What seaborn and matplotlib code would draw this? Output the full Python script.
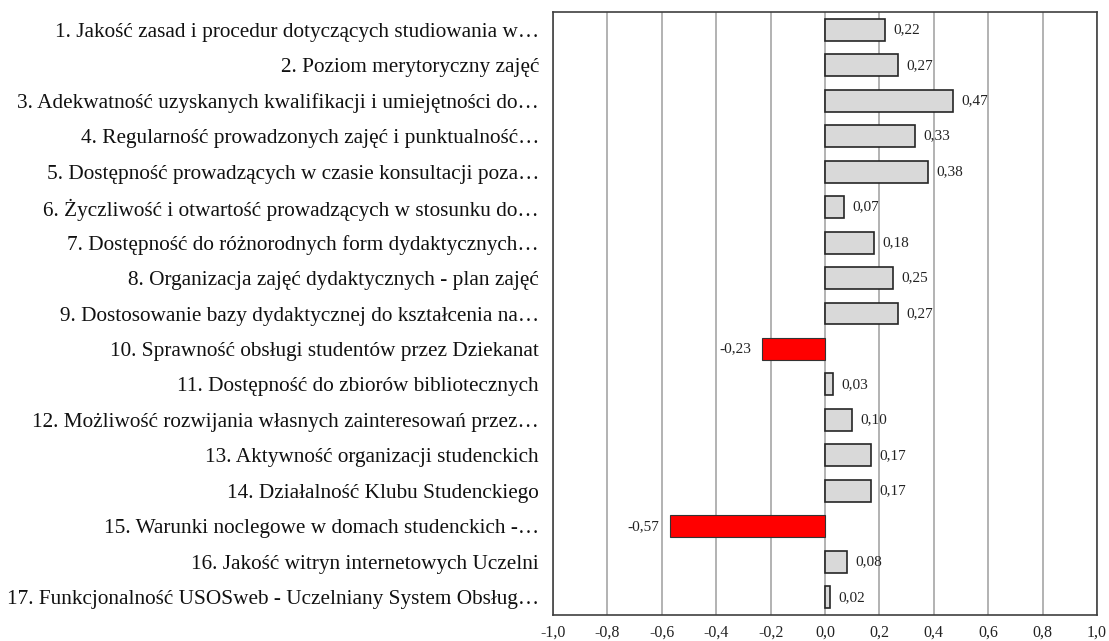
import matplotlib
matplotlib.use("Agg")
import matplotlib.pyplot as plt
import seaborn as sns
import pandas as pd

categories = [
    "1. Jakość zasad i procedur dotyczących studiowania w…",
    "2. Poziom merytoryczny zajęć",
    "3. Adekwatność uzyskanych kwalifikacji i umiejętności do…",
    "4. Regularność prowadzonych zajęć i punktualność…",
    "5. Dostępność prowadzących w czasie konsultacji poza…",
    "6. Życzliwość i otwartość prowadzących w stosunku do…",
    "7. Dostępność do różnorodnych form dydaktycznych…",
    "8. Organizacja zajęć dydaktycznych - plan zajęć",
    "9. Dostosowanie bazy dydaktycznej do kształcenia na…",
    "10. Sprawność obsługi studentów przez Dziekanat",
    "11. Dostępność do zbiorów bibliotecznych",
    "12. Możliwość rozwijania własnych zainteresowań przez…",
    "13. Aktywność organizacji studenckich",
    "14. Działalność Klubu Studenckiego",
    "15. Warunki noclegowe w domach studenckich -…",
    "16. Jakość witryn internetowych Uczelni",
    "17. Funkcjonalność USOSweb - Uczelniany System Obsług…",
]
values = [0.22, 0.27, 0.47, 0.33, 0.38, 0.07, 0.18, 0.25, 0.27,
          -0.23, 0.03, 0.10, 0.17, 0.17, -0.57, 0.08, 0.02]
x_ticks = [-1.0, -0.8, -0.6, -0.4, -0.2, 0.0, 0.2, 0.4, 0.6, 0.8, 1.0]

sns.set_theme(style="white")
plt.rcParams["font.family"] = ["Liberation Serif", "DejaVu Serif"]

df = pd.DataFrame({"kategoria": categories, "wartosc": values})
df["znak"] = ["neg" if v < 0 else "pos" for v in values]

fig = plt.figure(figsize=(11.09, 6.41), dpi=100)
ax = fig.add_axes([553 / 1109, 1 - 615 / 641, (1097 - 553) / 1109, (615 - 12) / 641])

sns.barplot(data=df, y="kategoria", x="wartosc", hue="znak",
            palette={"pos": "#d9d9d9", "neg": "#ff0000"}, saturation=1,
            orient="h", width=0.62, dodge=False, legend=False, ax=ax, zorder=3)

for patch in ax.patches:
    if patch.get_width() < 0:
        patch.set_edgecolor("#333333")
        patch.set_linewidth(0.8)
    else:
        patch.set_edgecolor("#262626")
        patch.set_linewidth(1.2)

for i, v in enumerate(values):
    lab = f"{v:.2f}".replace(".", ",")
    if v >= 0:
        ax.annotate(lab, (v, i), xytext=(6, 0), textcoords="offset points",
                    ha="left", va="center", fontsize=11, color="#222222")
    else:
        ax.annotate(lab, (v, i), xytext=(-8, 0), textcoords="offset points",
                    ha="right", va="center", fontsize=11, color="#222222",
                    bbox=dict(facecolor="white", edgecolor="none", pad=1))

ax.set_xlim(-1.0, 1.0)
ax.set_xticks(x_ticks)
ax.set_xticklabels([f"{t:.1f}".replace(".", ",") for t in x_ticks], fontsize=11.5,
                   color="#222222")
for t in x_ticks:
    ax.axvline(t, color="#a6a6a6", linewidth=1.2, zorder=1)
ax.set_xlabel("")
ax.set_ylabel("")
ax.tick_params(axis="y", labelsize=15.3, length=0, pad=10, labelcolor="#111111")
ax.tick_params(axis="x", length=0, pad=7)
for s in ax.spines.values():
    s.set_color("#404040")
    s.set_linewidth(1.2)
    s.set_visible(True)

fig.savefig("out.png", dpi=100, facecolor="white")
